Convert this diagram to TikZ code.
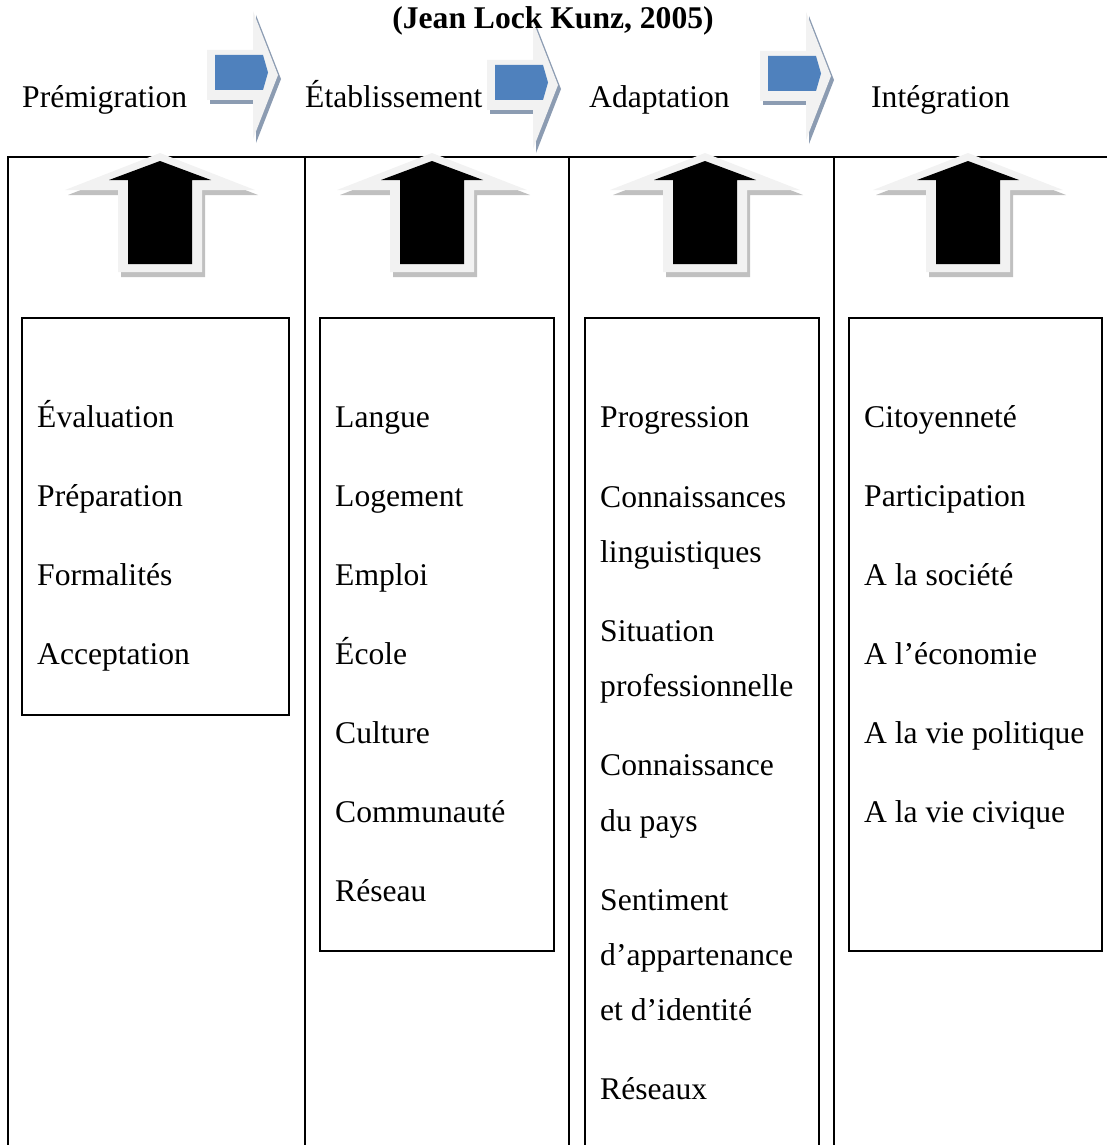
\documentclass[tikz,border=0pt]{standalone}
\usepackage{fontspec}
\setmainfont{Liberation Serif}

\definecolor{flowblue}{RGB}{79,129,189}
\definecolor{flowshade}{RGB}{140,156,178}
\definecolor{lightface}{RGB}{242,242,242}
\definecolor{upshade}{RGB}{192,192,192}

\tikzset{
  item/.style={anchor=base west, inner sep=0pt, font=\fontsize{31.6}{38}\selectfont},
  stage/.style={anchor=base west, inner sep=0pt, font=\fontsize{31.6}{38}\selectfont},
  frame/.style={line width=2.2pt},
}

% right arrow between two stages: #1 = left end of shaft, #2 = middle height
\newcommand{\flowarrow}[2]{%
  \begin{scope}[shift={(#1,#2)}]
    \fill[flowshade] (3,-21) -- (49,-21) -- (49,-60) -- (74,4) -- (49,68) -- (49,29) -- (3,29) -- cycle;
    \fill[lightface] (0,-25) -- (46,-25) -- (46,-64) -- (71,0) -- (46,64) -- (46,25) -- (0,25) -- cycle;
    \fill[flowblue] (8,-20) -- (56,-20) -- (61,-2.5) -- (56,15) -- (8,15) -- cycle;
  \end{scope}}

% black arrow pointing up, #1 = middle of the column
\newcommand{\liftarrow}[1]{%
  \begin{scope}[shift={(#1,0)}]
    \fill[upshade] (-39,277) -- (-39,195) -- (-92,195) -- (3,158) -- (98,195) -- (45,195) -- (45,277) -- cycle;
    \fill[lightface] (-42,272) -- (-42,190) -- (-95,190) -- (0,153) -- (95,190) -- (42,190) -- (42,272) -- cycle;
    \fill[black] (-32,264) -- (-32,180) -- (-51,180) -- (0,161) -- (51,180) -- (32,180) -- (32,264) -- cycle;
  \end{scope}}

\begin{document}
\begin{tikzpicture}[x=1pt,y=-1pt]
    \clip (0,0) rectangle (1107,1145);

    % table
    \draw[frame] (1107,157) -- (8,157) -- (8,1150);
    \draw[frame] (305,157) -- (305,1150)
                 (569,157) -- (569,1150)
                 (834,157) -- (834,1150);

    \draw[frame] (22,318) rectangle (289,715);
    \draw[frame] (320,318) rectangle (554,951);
    \draw[frame] (585,318) rectangle (819,1160);
    \draw[frame] (849,318) rectangle (1102,951);

    \liftarrow{160}
    \liftarrow{432}
    \liftarrow{705}
    \liftarrow{968}

    \flowarrow{207}{75}
    \flowarrow{487}{85}
    \flowarrow{760}{76}

    % stages
    \node[stage] (premig) at (22,108) {Prémigration};
    \node[stage] (etab)   at (305,108) {Établissement};
    \node[stage] (adapt)  at (589,108) {Adaptation};
    \node[stage] (integ)  at (871,108) {Intégration};

    \foreach \txt [count=\i] in {Évaluation, Préparation, Formalités, Acceptation}
        \node[item] (pre\i) at (37,{427+79*(\i-1)}) {\txt};

    \foreach \txt [count=\i] in {Langue, Logement, Emploi, École, Culture, Communauté, Réseau}
        \node[item] (eta\i) at (335,{427+79*(\i-1)}) {\txt};

    \foreach \yy/\txt [count=\i] in {427/Progression, 507/Connaissances, 562/linguistiques,
            641/Situation, 696/professionnelle, 775/Connaissance, 831/du pays,
            910/Sentiment, 965/d’appartenance, 1020/et d’identité, 1099/Réseaux}
        \node[item] (ada\i) at (600,\yy) {\txt};

    \foreach \txt [count=\i] in {Citoyenneté, Participation, A la société, A l’économie,
            A la vie politique, A la vie civique}
        \node[item] (int\i) at (864,{427+79*(\i-1)}) {\txt};

    \node[anchor=base, inner sep=0pt, font=\fontsize{31.6}{38}\selectfont\bfseries] (source) at (553,29) {(Jean Lock Kunz, 2005)};

\end{tikzpicture}
\end{document}
